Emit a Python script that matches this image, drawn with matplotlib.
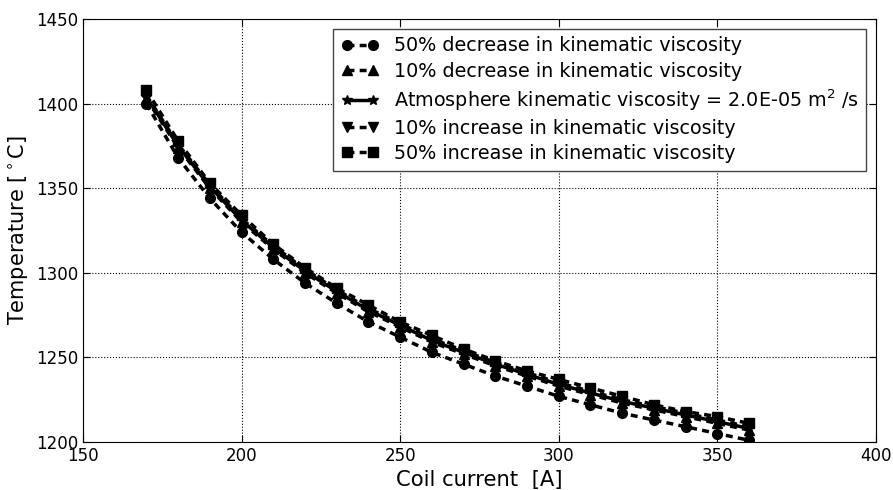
import matplotlib
matplotlib.use('Agg')
import matplotlib.pyplot as plt

current = [170, 180, 190, 200, 210, 220, 230, 240, 250, 260,
           270, 280, 290, 300, 310, 320, 330, 340, 350, 360]

dec50 = [1400, 1368, 1344, 1324, 1308, 1294, 1282, 1271, 1262, 1253,
         1246, 1239, 1233, 1227, 1222, 1217, 1213, 1209, 1205, 1201]
dec10 = [1403, 1374, 1350, 1330, 1314, 1300, 1288, 1277, 1268, 1259,
         1252, 1245, 1239, 1233, 1228, 1223, 1219, 1215, 1211, 1207]
base = [1404, 1375, 1351, 1331, 1315, 1301, 1289, 1278, 1269, 1260,
        1253, 1246, 1240, 1234, 1229, 1224, 1220, 1216, 1212, 1208]
inc10 = [1405, 1376, 1352, 1332, 1316, 1302, 1290, 1279, 1270, 1261,
         1254, 1247, 1241, 1235, 1230, 1225, 1221, 1217, 1213, 1209]
inc50 = [1408, 1378, 1353, 1334, 1317, 1303, 1291, 1281, 1271, 1263,
         1255, 1248, 1242, 1237, 1232, 1227, 1222, 1218, 1215, 1211]

labels = ['50% decrease in kinematic viscosity',
          '10% decrease in kinematic viscosity',
          'Atmosphere kinematic viscosity = 2.0E-05 m$^2$ /s',
          '10% increase in kinematic viscosity',
          '50% increase in kinematic viscosity']

plt.rcParams['font.family'] = 'DejaVu Sans'
fig = plt.figure(figsize=(8.93, 4.9), dpi=100)
ax = fig.add_axes([0.0929, 0.098, 0.888, 0.863])

dash = (0, (2.0, 1.5))
ax.plot(current, dec50, color='k', ls=dash, lw=2.5, marker='o', ms=7, label=labels[0])
ax.plot(current, dec10, color='k', ls=dash, lw=2.5, marker='^', ms=7, label=labels[1])
ax.plot(current, base, color='k', ls='-', lw=2.5, marker='*', ms=7, label=labels[2])
ax.plot(current, inc10, color='k', ls=dash, lw=2.5, marker='v', ms=7, label=labels[3])
ax.plot(current, inc50, color='k', ls=dash, lw=2.5, marker='s', ms=7, label=labels[4])

ax.set_xlim(150, 400)
ax.set_ylim(1200, 1450)
ax.set_xticks([150, 200, 250, 300, 350, 400])
ax.set_yticks([1200, 1250, 1300, 1350, 1400, 1450])
ax.tick_params(direction='in', top=True, right=True, labelsize=12, length=5)
ax.grid(True, color='k', ls=':', lw=0.8)
for s in ax.spines.values():
    s.set_linewidth(0.8)
ax.set_xlabel('Coil current  [A]', fontsize=15.2)
ax.set_ylabel('Temperature [$^\\circ$C]', fontsize=15)

leg = ax.legend(loc='upper right', fontsize=13.8, numpoints=2, handlelength=1.95,
                handletextpad=0.8, fancybox=False, edgecolor='#444444', framealpha=1,
                labelspacing=0.33, borderpad=0.4, borderaxespad=0.5)
leg.get_frame().set_linewidth(1)

fig.savefig('out.png', dpi=100)
